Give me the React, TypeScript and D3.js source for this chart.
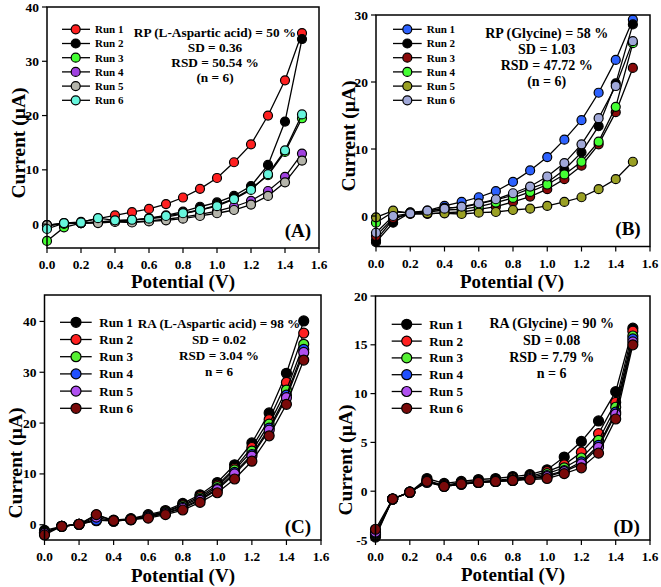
import React from "react";
import * as d3 from "d3";

const potentials = [0.0, 0.1, 0.2, 0.3, 0.4, 0.5, 0.6, 0.7, 0.8, 0.9, 1.0, 1.1, 1.2, 1.3, 1.4, 1.5];
const runLabels = ["Run 1", "Run 2", "Run 3", "Run 4", "Run 5", "Run 6"];
const xTicks = [0, 0.2, 0.4, 0.6, 0.8, 1.0, 1.2, 1.4, 1.6];

// Panel A: RP L-Aspartic acid
const aRun1 = [-0.2, 0.2, 0.4, 1.0, 1.6, 2.2, 2.8, 3.7, 4.9, 6.5, 8.5, 11.4, 14.7, 20.0, 26.5, 35.2];
const aRun2 = [-0.2, 0.1, 0.2, 0.4, 0.6, 0.7, 1.1, 1.6, 2.3, 3.2, 4.0, 5.2, 7.0, 10.9, 18.9, 34.1];
const aRun3 = [-3.1, -0.6, 0.2, 0.4, 0.6, 0.8, 1.0, 1.3, 1.9, 2.6, 3.5, 4.7, 6.5, 9.0, 13.3, 19.5];
const aRun4 = [-0.3, 0.1, 0.2, 0.3, 0.5, 0.4, 0.6, 0.9, 1.3, 1.8, 2.4, 3.2, 4.3, 6.1, 8.7, 13.0];
const aRun5 = [-0.2, 0.1, 0.2, 0.2, 0.4, 0.3, 0.5, 0.7, 1.0, 1.5, 2.0, 2.6, 3.6, 5.2, 7.7, 11.7];
const aRun6 = [-0.9, 0.2, 0.3, 1.1, 0.7, 0.8, 1.0, 1.5, 2.0, 2.6, 3.3, 4.6, 6.3, 9.2, 13.6, 20.2];
const aColors = ["#ff2020", "#000000", "#44ff33", "#a040e0", "#b4b4aa", "#66f5dc"];
const aYTicks = [0, 10, 20, 30, 40];
const aNotes = ["RP (L-Aspartic acid) = 50 %", "SD = 0.36", "RSD = 50.54 %", "(n = 6)"];

// Panel B: RP Glycine
const bRun1 = [-3.6, -0.5, 0.5, 0.8, 1.5, 2.1, 2.8, 3.7, 5.1, 6.8, 8.8, 11.4, 14.3, 18.4, 23.3, 29.3];
const bRun2 = [-3.9, -1.0, 0.5, 0.7, 1.2, 1.3, 1.8, 2.4, 3.1, 4.1, 5.0, 6.9, 9.5, 13.4, 19.8, 28.6];
const bRun3 = [-3.0, -0.3, 0.3, 0.3, 0.5, 0.6, 1.0, 1.4, 2.1, 2.9, 4.0, 5.5, 7.5, 10.7, 15.5, 22.1];
const bRun4 = [-1.0, 0.6, 0.5, 0.6, 0.9, 1.0, 1.4, 2.0, 2.7, 3.6, 4.7, 6.2, 8.1, 11.1, 16.3, 25.8];
const bRun5 = [-0.2, 0.8, 0.4, 0.4, 0.4, 0.3, 0.5, 0.6, 0.9, 1.1, 1.5, 2.1, 2.8, 4.0, 5.5, 8.1];
const bRun6 = [-2.5, 0.0, 0.4, 0.8, 1.1, 1.4, 1.9, 2.5, 3.4, 4.4, 5.9, 7.9, 10.7, 14.6, 19.4, 26.1];
const bColors = ["#2d62ff", "#000000", "#8a0a0a", "#44ff33", "#9aa024", "#a0a8d8"];
const bYTicks = [0, 10, 20, 30];
const bNotes = ["RP (Glycine) = 58 %", "SD = 1.03", "RSD = 47.72 %", "(n = 6)"];

// Panel C: RA L-Aspartic acid
const cRun1 = [-1.1, -0.3, 0.1, 0.8, 0.9, 1.2, 2.0, 2.8, 4.2, 5.9, 8.3, 11.8, 16.1, 22.0, 29.8, 40.1];
const cRun2 = [-1.5, -0.3, 0.1, 1.9, 0.8, 1.1, 1.8, 2.6, 3.9, 5.6, 7.8, 11.1, 15.2, 20.7, 28.0, 37.7];
const cRun3 = [-1.5, -0.3, 0.1, 1.0, 0.8, 1.1, 1.7, 2.5, 3.7, 5.3, 7.5, 10.8, 14.5, 19.8, 26.5, 35.5];
const cRun4 = [-1.6, -0.3, 0.1, 0.9, 0.7, 1.0, 1.6, 2.3, 3.4, 5.0, 7.1, 10.3, 13.8, 19.0, 25.5, 34.5];
const cRun5 = [-1.7, -0.3, 0.1, 1.5, 0.7, 1.0, 1.5, 2.2, 3.2, 4.8, 6.9, 10.0, 13.5, 18.6, 25.0, 33.9];
const cRun6 = [-2.0, -0.3, 0.1, 2.0, 0.8, 1.0, 1.3, 2.0, 2.9, 4.4, 6.3, 9.0, 12.5, 17.5, 23.7, 32.4];
const cdColors = ["#000000", "#ff2020", "#55f033", "#2050ff", "#b050f0", "#7a0a0a"];
const cYTicks = [0, 10, 20, 30, 40];
const cNotes = ["RA (L-Aspartic acid) = 98 %", "SD = 0.02", "RSD = 3.04 %", "n = 6"];

// Panel D: RA Glycine
const dRun1 = [-4.7, -0.8, -0.1, 1.3, 0.8, 1.0, 1.2, 1.3, 1.5, 1.7, 2.2, 3.5, 5.1, 7.2, 10.2, 16.7];
const dRun2 = [-4.5, -0.8, -0.1, 1.1, 0.6, 0.9, 1.0, 1.1, 1.3, 1.5, 2.0, 2.7, 4.0, 5.9, 9.1, 16.4];
const dRun3 = [-4.4, -0.8, -0.1, 1.0, 0.5, 0.8, 0.9, 1.0, 1.2, 1.4, 1.8, 2.4, 3.4, 5.2, 8.6, 15.9];
const dRun4 = [-4.3, -0.8, -0.1, 1.0, 0.5, 0.7, 0.9, 1.0, 1.1, 1.3, 1.6, 2.1, 3.0, 4.7, 8.1, 15.6];
const dRun5 = [-4.2, -0.8, -0.1, 0.9, 0.5, 0.7, 0.9, 1.0, 1.1, 1.3, 1.5, 2.0, 2.8, 4.5, 7.9, 15.3];
const dRun6 = [-3.9, -0.8, -0.1, 1.0, 0.5, 0.75, 0.9, 1.0, 1.1, 1.2, 1.3, 1.8, 2.4, 3.9, 7.4, 15.0];
const dYTicks = [-5, 0, 5, 10, 15, 20];
const dNotes = ["RA (Glycine) = 90 %", "SD = 0.08", "RSD = 7.79 %", "n = 6"];

const FONT = "'Liberation Serif', 'Times New Roman', serif";

type PanelCfg = {
  series: number[][];
  colors: string[];
  yTicks: number[];
  notes: string[];
  tag: string;
  x0: number; x1: number; yTop: number; yBot: number;
  yDomain: [number, number];
  r: number;
  legend: { mx: number; lx0: number; lx1: number; tx: number; y0: number; dy: number; fs: number };
  note: { cx: number; y0: number; dy: number; fs: number };
  tagPos: { x: number; y: number };
  yTitle: { x: number; y: number };
  xTitle: { x: number; y: number };
};

function Panel({ cfg }: { cfg: PanelCfg }) {
  const x = d3.scaleLinear().domain([0, 1.6]).range([cfg.x0, cfg.x1]);
  const y = d3.scaleLinear().domain(cfg.yDomain).range([cfg.yBot, cfg.yTop]);
  const line = d3.line<number>().x((_, i) => x(potentials[i])).y((v) => y(v));
  const fmtX = d3.format(".1f");
  return (
    <g>
      {cfg.series.map((s, si) => (
        <g key={si}>
          <path d={line(s) || ""} fill="none" stroke="#000" strokeWidth={1.3} />
          {s.map((v, i) => (
            <circle key={i} cx={x(potentials[i])} cy={y(v)} r={cfg.r} fill={cfg.colors[si]} stroke="#000" strokeWidth={1.2} />
          ))}
        </g>
      ))}
      <rect x={cfg.x0} y={cfg.yTop} width={cfg.x1 - cfg.x0} height={cfg.yBot - cfg.yTop} fill="none" stroke="#000" strokeWidth={1.5} />
      {xTicks.map((t) => (
        <g key={t}>
          <line x1={x(t)} x2={x(t)} y1={cfg.yBot} y2={cfg.yBot + 5} stroke="#000" strokeWidth={1.2} />
          <text x={x(t)} y={cfg.yBot + 21} textAnchor="middle" fontFamily={FONT} fontWeight="bold" fontSize={13.3}>{fmtX(t)}</text>
        </g>
      ))}
      {cfg.yTicks.map((t) => (
        <g key={t}>
          <line x1={cfg.x0 - 5} x2={cfg.x0} y1={y(t)} y2={y(t)} stroke="#000" strokeWidth={1.2} />
          <text x={cfg.x0 - 8} y={y(t) + 4.5} textAnchor="end" fontFamily={FONT} fontWeight="bold" fontSize={13.5}>{t}</text>
        </g>
      ))}
      {runLabels.map((lab, i) => {
        const ly = cfg.legend.y0 + i * cfg.legend.dy;
        return (
          <g key={lab}>
            <line x1={cfg.legend.lx0} x2={cfg.legend.lx1} y1={ly} y2={ly} stroke="#000" strokeWidth={1.3} />
            <circle cx={cfg.legend.mx} cy={ly} r={cfg.r} fill={cfg.colors[i]} stroke="#000" strokeWidth={1.2} />
            <text x={cfg.legend.tx} y={ly + cfg.legend.fs * 0.35} fontFamily={FONT} fontWeight="bold" fontSize={cfg.legend.fs}>{lab}</text>
          </g>
        );
      })}
      {cfg.notes.map((n, i) => (
        <text key={n} x={cfg.note.cx} y={cfg.note.y0 + i * cfg.note.dy + cfg.note.fs * 0.35} textAnchor="middle" fontFamily={FONT} fontWeight="bold" fontSize={cfg.note.fs}>{n}</text>
      ))}
      <text x={cfg.tagPos.x} y={cfg.tagPos.y + 6.5} textAnchor="middle" fontFamily={FONT} fontWeight="bold" fontSize={19}>{cfg.tag}</text>
      <text transform={`translate(${cfg.yTitle.x},${cfg.yTitle.y}) rotate(-90)`} textAnchor="middle" dy="0.35em" fontFamily={FONT} fontWeight="bold" fontSize={19.5}>Current (µA)</text>
      <text x={cfg.xTitle.x} y={cfg.xTitle.y} textAnchor="middle" fontFamily={FONT} fontWeight="bold" fontSize={19}>Potential (V)</text>
    </g>
  );
}

const panels: PanelCfg[] = [
  {
    series: [aRun1, aRun2, aRun3, aRun4, aRun5, aRun6], colors: aColors, yTicks: aYTicks, notes: aNotes, tag: "(A)",
    x0: 47, x1: 319, yTop: 7, yBot: 248, yDomain: [-4.4, 40], r: 4.5,
    legend: { mx: 75.7, lx0: 62, lx1: 90, tx: 95, y0: 29.3, dy: 14.2, fs: 11 },
    note: { cx: 215, y0: 32.3, dy: 15, fs: 13.3 },
    tagPos: { x: 298, y: 230 }, yTitle: { x: 18, y: 143 }, xTitle: { x: 183, y: 288 },
  },
  {
    series: [bRun1, bRun2, bRun3, bRun4, bRun5, bRun6], colors: bColors, yTicks: bYTicks, notes: bNotes, tag: "(B)",
    x0: 376, x1: 650, yTop: 15, yBot: 246.5, yDomain: [-4.55, 30], r: 4.5,
    legend: { mx: 407.3, lx0: 393, lx1: 421.7, tx: 426.7, y0: 29.3, dy: 14.2, fs: 11 },
    note: { cx: 546.7, y0: 33.3, dy: 16, fs: 14 },
    tagPos: { x: 628, y: 228 }, yTitle: { x: 348, y: 136 }, xTitle: { x: 512, y: 287.5 },
  },
  {
    series: [cRun1, cRun2, cRun3, cRun4, cRun5, cRun6], colors: cdColors, yTicks: cYTicks, notes: cNotes, tag: "(C)",
    x0: 44.5, x1: 321, yTop: 295, yBot: 540, yDomain: [-3, 45.2], r: 5,
    legend: { mx: 76, lx0: 60, lx1: 91.7, tx: 99.3, y0: 322.3, dy: 17.2, fs: 13 },
    note: { cx: 219, y0: 323.3, dy: 16, fs: 13.2 },
    tagPos: { x: 298, y: 526.7 }, yTitle: { x: 15, y: 463 }, xTitle: { x: 183, y: 582 },
  },
  {
    series: [dRun1, dRun2, dRun3, dRun4, dRun5, dRun6], colors: cdColors, yTicks: dYTicks, notes: dNotes, tag: "(D)",
    x0: 375.5, x1: 650, yTop: 296, yBot: 540, yDomain: [-5, 20], r: 5,
    legend: { mx: 406.7, lx0: 391.7, lx1: 421.7, tx: 429.3, y0: 324.3, dy: 16.8, fs: 13 },
    note: { cx: 551.7, y0: 323.3, dy: 16.7, fs: 14 },
    tagPos: { x: 626.7, y: 526.7 }, yTitle: { x: 345, y: 460 }, xTitle: { x: 513, y: 581 },
  },
];

export default function App() {
  return (
    <svg width={661} height={587} viewBox="0 0 661 587" style={{ position: "absolute", left: 0, top: 0, background: "#fff" }}>
      <rect width={661} height={587} fill="#fff" />
      {panels.map((p, i) => (
        <Panel key={i} cfg={p} />
      ))}
    </svg>
  );
}
